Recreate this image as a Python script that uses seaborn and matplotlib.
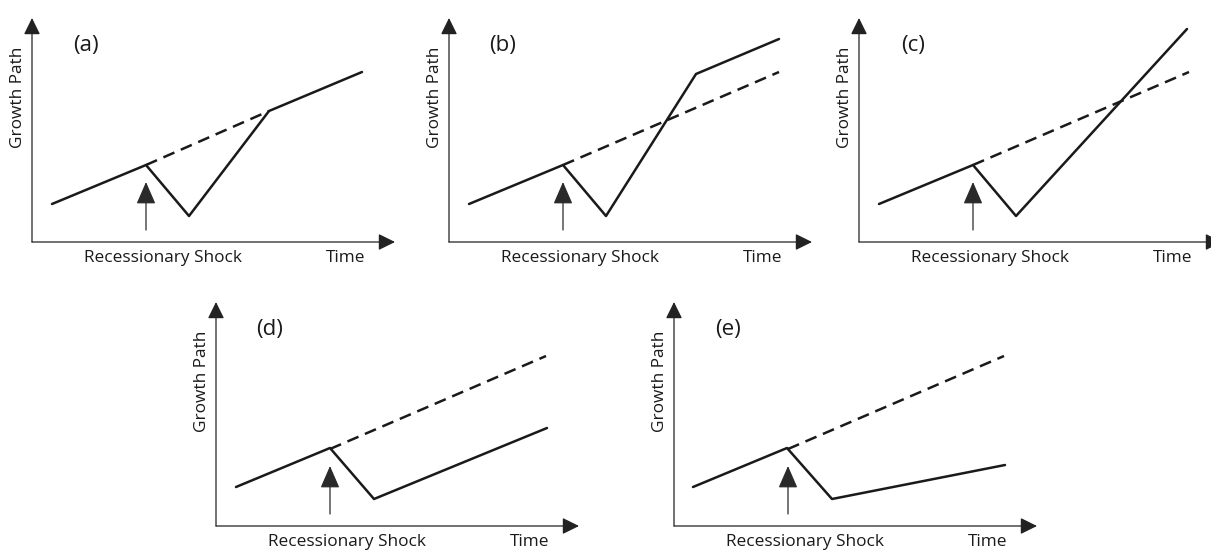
import matplotlib
matplotlib.use("Agg")
import matplotlib.pyplot as plt
import pandas as pd
import seaborn as sns

# values (time / growth in arbitrary units)
panel_labels = ["(a)", "(b)", "(c)", "(d)", "(e)"]

a_time = [2.0, 11.4, 15.7, 23.7, 33.0]
a_growth = [3.8, 7.7, 2.6, 13.1, 17.0]
b_time = [2.0, 11.4, 15.7, 24.7, 33.0]
b_growth = [3.8, 7.7, 2.6, 16.8, 20.3]
c_time = [2.0, 11.4, 15.7, 32.8]
c_growth = [3.8, 7.7, 2.6, 21.3]
d_time = [2.0, 11.4, 15.8, 33.1]
d_growth = [3.9, 7.8, 2.7, 9.8]
e_time = [1.9, 11.3, 15.8, 33.1]
e_growth = [3.9, 7.8, 2.7, 6.1]

# pre-shock trend continued (dashed)
trend_time = [11.4, 33.0]
trend_growth = [7.7, 17.0]
a_trend_time = [11.4, 23.7]
a_trend_growth = [7.7, 13.1]

shock_time = 11.4
shock_arrow = [1.2, 6.0]   # bottom / tip of the shock arrow

x_max, y_max = 36.3, 22.4

W, H = 1211, 550
sns.set_theme(style="white")
plt.rcParams["font.family"] = ["Open Sans", "DejaVu Sans"]

fig = plt.figure(figsize=(W / 100, H / 100), dpi=100)

solid = [(a_time, a_growth), (b_time, b_growth), (c_time, c_growth),
         (d_time, d_growth), (e_time, e_growth)]
dashed = [(a_trend_time, a_trend_growth)] + [(trend_time, trend_growth)] * 4
# axis corner of each panel in pixels
origins = [(32, 242), (449, 242), (859, 242), (216, 526), (674, 526)]

ink = "#1a1a1a"
dash = (0, (4.8, 2.8))

for lab, (st, sg), (dt, dg), (ox, oy) in zip(panel_labels, solid, dashed, origins):
    ax = fig.add_axes([ox / W, 1 - oy / H, x_max * 10 / W, y_max * 10 / H])
    ax.set_xlim(0, x_max)
    ax.set_ylim(0, y_max)
    ax.patch.set_alpha(0)
    for s in ax.spines.values():
        s.set_visible(False)
    ax.set_xticks([])
    ax.set_yticks([])

    sns.lineplot(x=dt, y=dg, ax=ax, color=ink, linewidth=1.8, linestyle=dash)
    sns.lineplot(x=st, y=sg, ax=ax, color=ink, linewidth=1.8)

    # axes with arrow heads
    axis_arrow = dict(arrowstyle="-|>,head_length=0.85,head_width=0.42",
                      color="#222222", lw=0.9, shrinkA=0, shrinkB=0)
    ax.annotate("", xy=(x_max, 0), xytext=(0, 0), arrowprops=axis_arrow,
                annotation_clip=False)
    ax.annotate("", xy=(0, y_max), xytext=(0, 0), arrowprops=axis_arrow,
                annotation_clip=False)

    # recessionary shock arrow
    ax.annotate("", xy=(shock_time, shock_arrow[1]), xytext=(shock_time, shock_arrow[0]),
                arrowprops=dict(arrowstyle="-|>,head_length=1.15,head_width=0.5",
                                color="#2a2a2a", lw=0.9, shrinkA=0, shrinkB=0),
                annotation_clip=False)

    ax.text(5.4, 19.7, lab, fontsize=16, ha="center", va="center", color=ink)
    ax.text(-1.4, 14.5, "Growth Path", fontsize=12.4, rotation=90,
            ha="center", va="center", color=ink)
    ax.text(13.1, -1.6, "Recessionary Shock", fontsize=12.4,
            ha="center", va="center", color=ink)
    ax.text(31.4, -1.6, "Time", fontsize=12.4, ha="center", va="center", color=ink)

fig.savefig("out.png", dpi=100, facecolor="white")
